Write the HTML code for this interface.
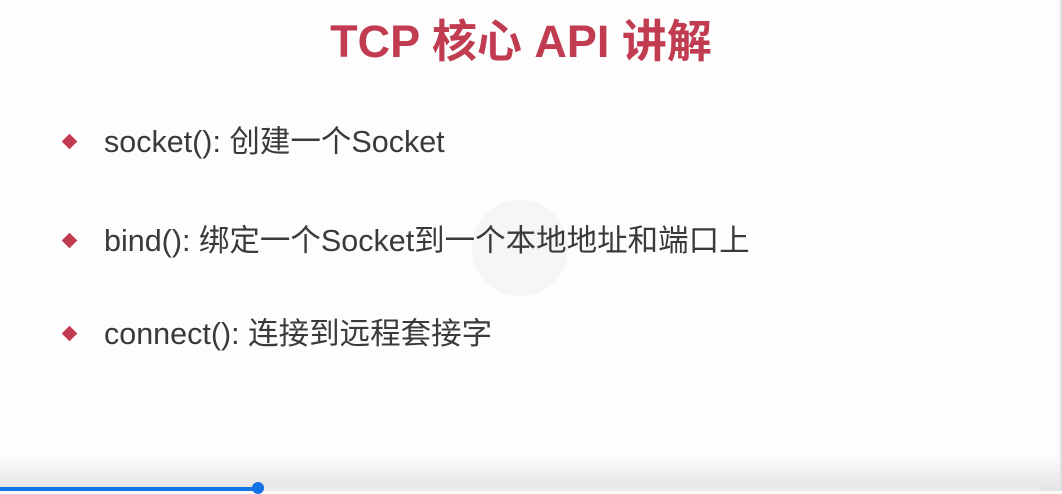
<!DOCTYPE html>
<html><head><meta charset="utf-8"><style>
html,body{margin:0;padding:0;}
body{width:1062px;height:491px;position:relative;overflow:hidden;background:#fdfdfd;font-family:"Liberation Sans","Noto Sans CJK SC",sans-serif;}
.title{position:absolute;left:0;width:1042px;top:13px;text-align:center;font-size:45px;font-weight:bold;color:#c13c50;line-height:58px;}
.item{position:absolute;left:104px;font-size:30.5px;color:#3a3a3a;line-height:36px;white-space:nowrap;}
.d{position:absolute;left:64px;width:11px;height:11px;background:#c13c50;transform:rotate(45deg);}
.circ{position:absolute;left:472px;top:200px;width:96px;height:96px;border-radius:50%;background:#f6f6f6;}
.grad{position:absolute;left:0;top:455px;width:1062px;height:36px;background:linear-gradient(#fdfdfd,#e3e3e3);}
.track{position:absolute;left:0;top:487px;width:1040px;height:4px;background:#ececec;}
.bar{position:absolute;left:0;top:487px;width:258px;height:4px;background:#1273e6;}
.knob{position:absolute;left:252px;top:482px;width:12px;height:12px;border-radius:50%;background:#1273e6;}
.edge{position:absolute;left:1060px;top:0;width:2px;height:491px;background:#d8e4e2;}
</style></head><body>
<div class="circ"></div>
<div class="title">TCP 核心 API 讲解</div>
<div class="d" style="top:136px"></div>
<div class="item" style="top:124px">socket(): 创建一个Socket</div>
<div class="d" style="top:235px"></div>
<div class="item" style="top:223px">bind(): 绑定一个Socket到一个本地地址和端口上</div>
<div class="d" style="top:328px"></div>
<div class="item" style="top:316px">connect(): 连接到远程套接字</div>
<div class="grad"></div>
<div class="track"></div>
<div class="bar"></div>
<div class="knob"></div>
<div class="edge"></div>
</body></html>
